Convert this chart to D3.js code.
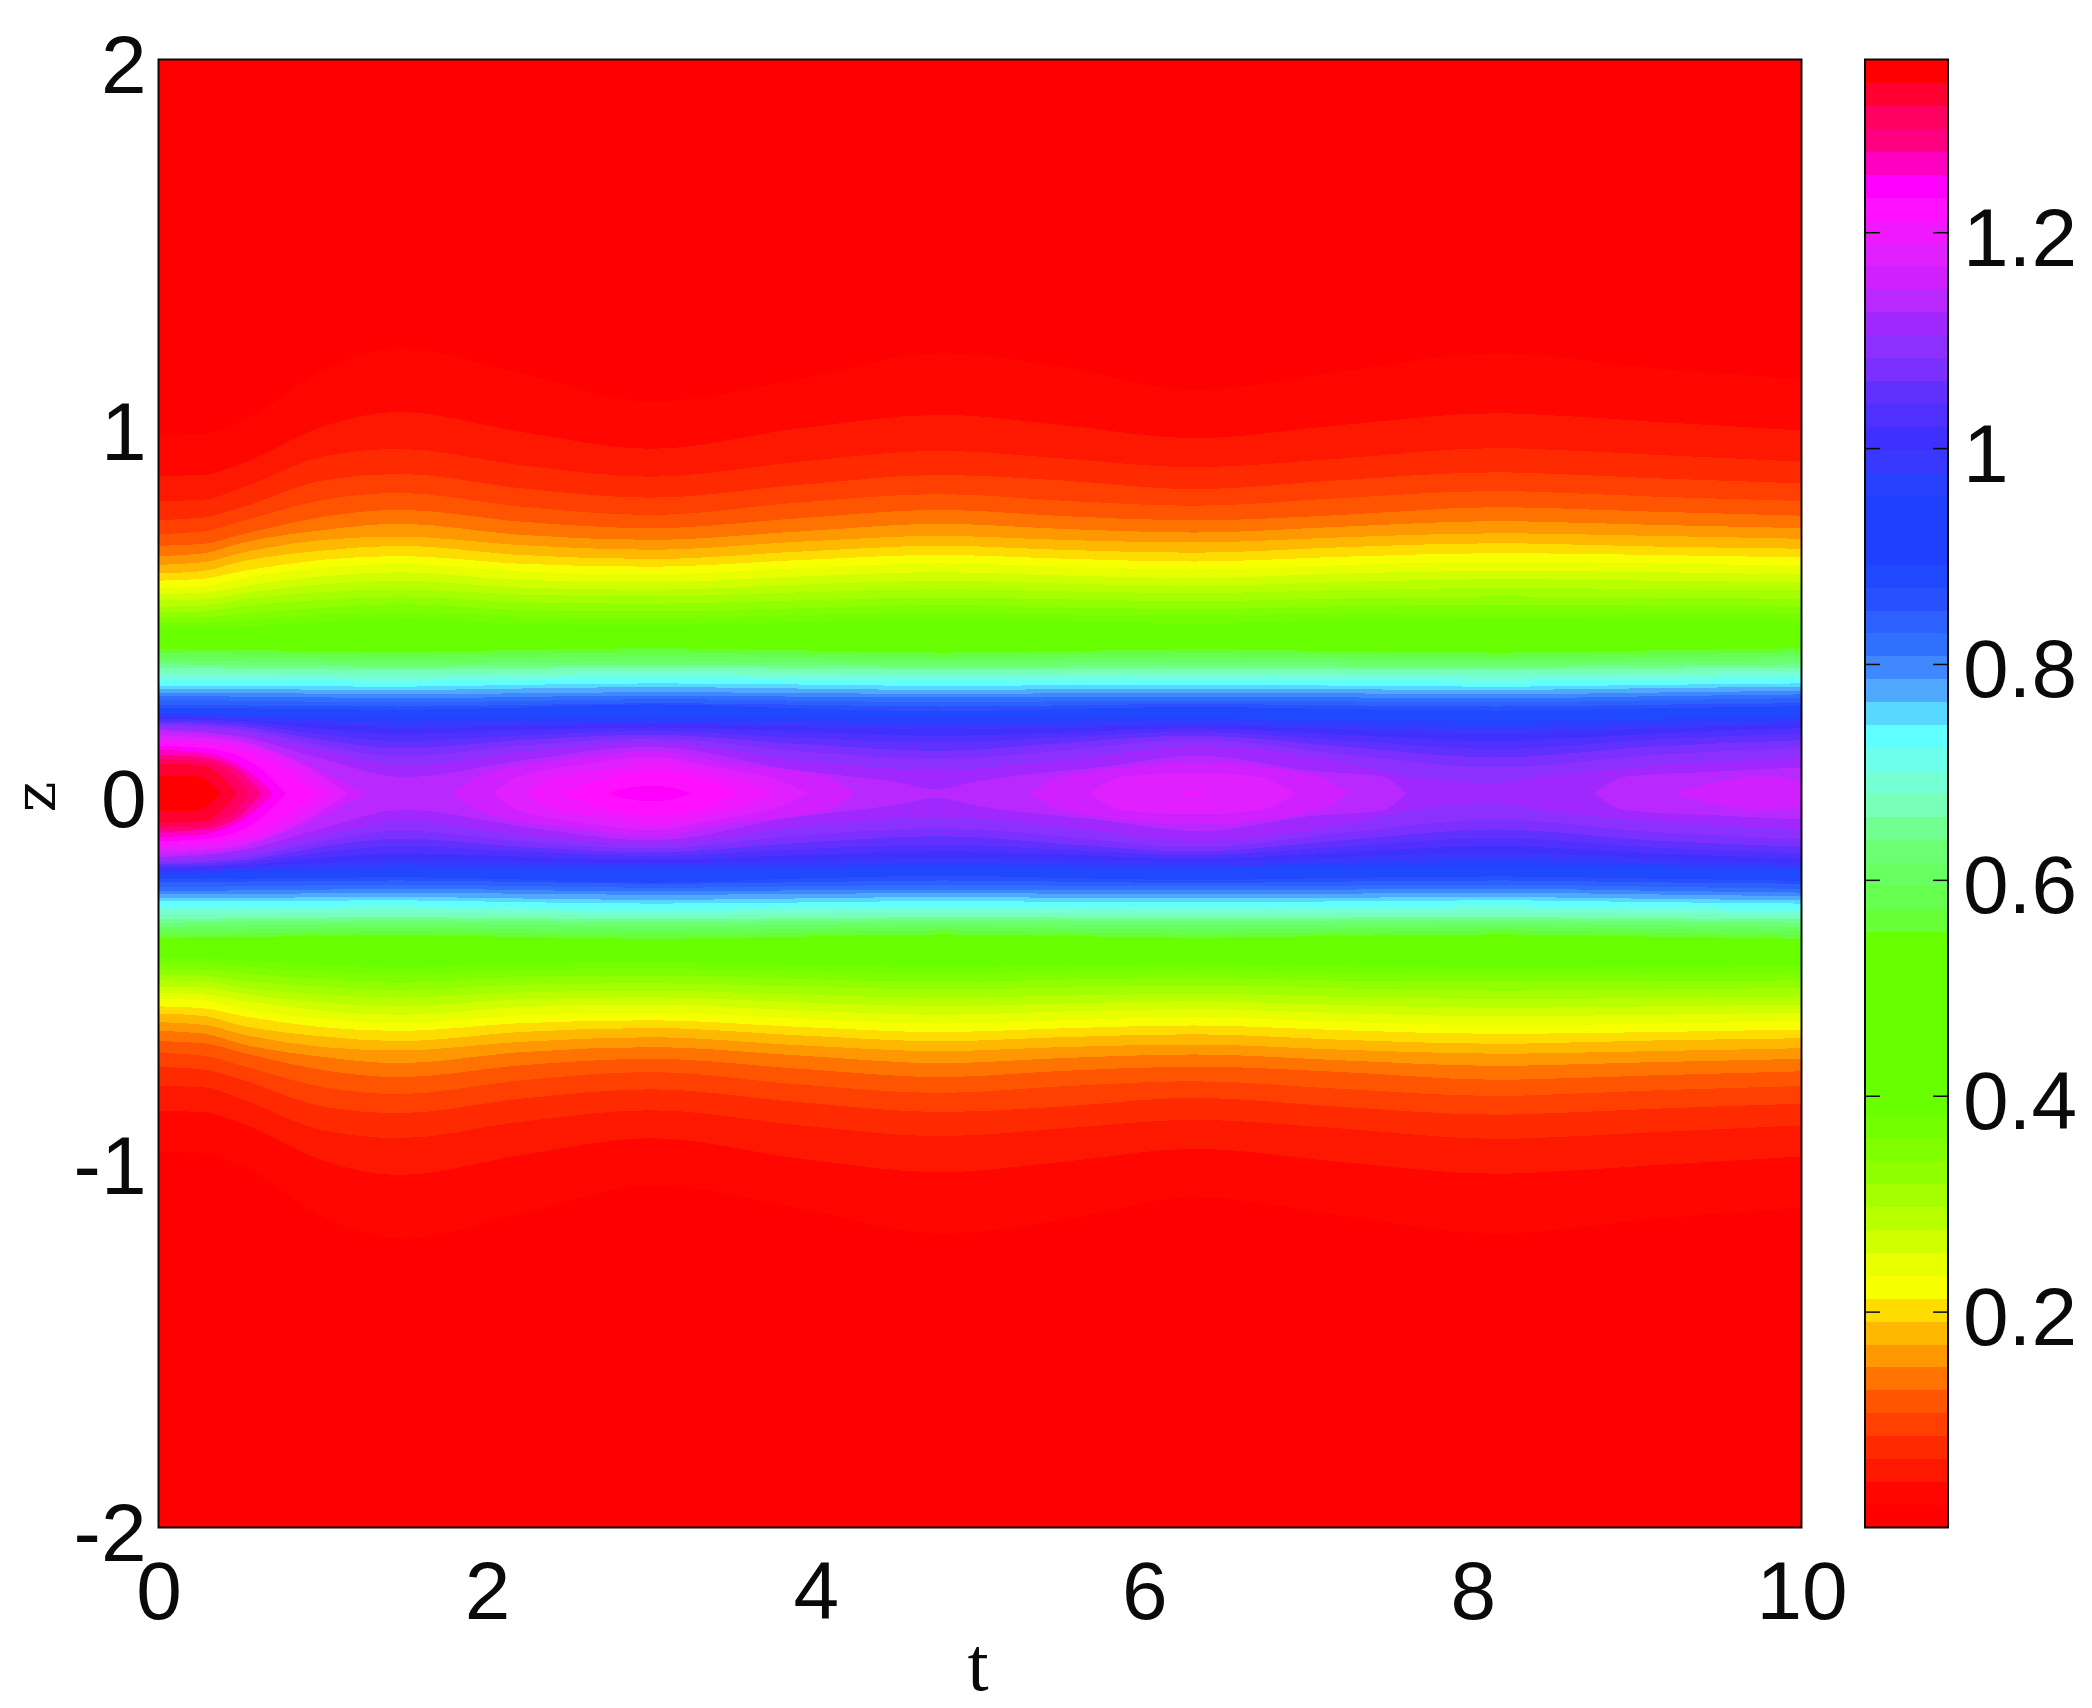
<!DOCTYPE html>
<html lang="en">
<head>
<meta charset="utf-8">
<title>z-t contour</title>
<script src="https://d3js.org/d3.v7.min.js"></script>
<style>
body { margin: 0; background: #fff; }
text { fill: #0a0a0a; }
.axis text { font: 82px "Liberation Sans", Arial, sans-serif; }
.axis path { display: none; }
.axis line { stroke: #0a0a0a; stroke-width: 1.5; }
</style>
</head>
<body>
<svg width="2092" height="1708"></svg>
<script>
// colours of the 64 colorbar bands, bottom to top
var bandColors = [
  "#ff0000","#ff0600","#ff1800","#ff2a00","#ff4000","#ff5500","#ff7400","#ff9800",
  "#ffb800","#ffdc00","#f8ff00","#e8ff00","#d0ff00","#b8ff00","#a4ff00","#90ff00",
  "#80ff00","#74ff00","#68ff00","#66ff00","#66ff00","#66ff00","#66ff00","#66ff00",
  "#66ff00","#66ff00","#66ff38","#66ff50","#68ff60","#6cff74","#70ff90","#78ffb8",
  "#74ffd4","#6cffec","#60ffff","#58d8ff","#50a8ff","#4088ff","#3070ff","#2c60ff",
  "#2850ff","#2048ff","#2040ff","#2040ff","#2040ff","#2840ff","#3838ff","#4030ff",
  "#5030ff","#6030ff","#7c30ff","#8c30ff","#a028ff","#b828ff","#d020ff","#e020ff",
  "#f018ff","#ff10ff","#ff00ff","#ff00c0","#ff0080","#ff0060","#ff0030","#ff0000"
];

var tTicks = [0, 2, 4, 6, 8, 10];
var zTicks = [-2, -1, 0, 1, 2];
var cTicks = [0.2, 0.4, 0.6, 0.8, 1, 1.2];

// times at which the band edges were read
var tColumns = [0, 0.27, 0.5, 1, 1.47, 2.2, 3, 3.9, 4.76, 5.5, 6.3, 7.2, 8.13, 9.1, 10];

// band index -> |z| of the lower edge of that band at each time in tColumns
var edgeLevels = [1,2,3,4,5,6,7,8,9,10,11,12,13,14,15,16,17,18,
  26,27,28,29,30,31,32,33,34,35,36,37,38,39,40,41,45,46,47,48,49,50,51];
var edgeZ = [
  [.977,.98,1.013,1.154,1.214,1.146,1.068,1.13,1.2,1.163,1.1,1.15,1.2,1.159,1.129],
  [.865,.868,.898,1.0,1.04,.986,.939,.995,1.032,1.004,.968,1.004,1.036,1.013,.989],
  [.797,.8,.832,.918,.939,.895,.863,.904,.934,.913,.889,.913,.941,.923,.904],
  [.745,.752,.779,.853,.871,.832,.806,.841,.868,.853,.829,.854,.875,.859,.845],
  [.707,.714,.741,.8,.819,.782,.759,.793,.816,.798,.784,.805,.824,.809,.797],
  [.675,.68,.705,.754,.773,.741,.723,.75,.773,.756,.744,.759,.78,.768,.757],
  [.647,.654,.682,.718,.735,.705,.691,.714,.735,.721,.711,.727,.742,.732,.723],
  [.623,.63,.655,.691,.7,.677,.664,.686,.702,.691,.684,.698,.709,.702,.694],
  [.6,.606,.632,.662,.675,.65,.639,.659,.675,.664,.656,.671,.682,.673,.667],
  [.58,.585,.605,.637,.647,.626,.618,.636,.65,.64,.632,.645,.655,.65,.643],
  [.559,.564,.585,.615,.626,.605,.597,.614,.627,.618,.61,.622,.632,.627,.62],
  [.544,.547,.564,.592,.603,.582,.575,.591,.603,.594,.587,.599,.607,.603,.597],
  [.526,.529,.545,.57,.58,.561,.555,.569,.58,.572,.566,.576,.584,.58,.575],
  [.509,.512,.528,.549,.556,.542,.537,.548,.557,.551,.546,.554,.56,.557,.553],
  [.493,.496,.51,.527,.537,.521,.517,.526,.534,.529,.524,.531,.537,.534,.53],
  [.478,.48,.49,.506,.516,.5,.496,.505,.514,.507,.503,.51,.514,.512,.509],
  [.464,.465,.472,.487,.496,.482,.478,.486,.493,.488,.485,.491,.495,.493,.49],
  [.448,.449,.454,.467,.475,.463,.459,.467,.473,.469,.465,.471,.475,.473,.47],
  [.393,.392,.391,.388,.386,.391,.396,.39,.384,.388,.393,.388,.384,.39,.396],
  [.384,.383,.381,.378,.375,.38,.384,.379,.373,.378,.382,.378,.373,.379,.385],
  [.373,.372,.371,.368,.366,.37,.374,.369,.364,.368,.371,.368,.364,.369,.375],
  [.363,.362,.36,.357,.355,.358,.361,.358,.355,.357,.359,.357,.355,.359,.364],
  [.352,.351,.349,.347,.345,.348,.35,.348,.345,.346,.347,.346,.345,.348,.352],
  [.341,.341,.34,.338,.337,.34,.342,.34,.337,.338,.339,.338,.337,.34,.343],
  [.329,.329,.328,.326,.325,.328,.331,.328,.325,.327,.328,.327,.325,.328,.332],
  [.317,.317,.316,.314,.312,.317,.321,.317,.314,.315,.317,.315,.313,.317,.321],
  [.305,.305,.304,.303,.302,.307,.312,.307,.303,.305,.306,.304,.302,.306,.311],
  [.293,.293,.293,.292,.291,.296,.3,.297,.293,.295,.296,.294,.291,.296,.3],
  [.284,.284,.284,.283,.282,.286,.29,.286,.282,.284,.285,.284,.282,.287,.291],
  [.275,.275,.274,.272,.27,.273,.276,.274,.271,.273,.275,.273,.27,.275,.28],
  [.266,.265,.264,.262,.259,.263,.267,.264,.262,.263,.264,.262,.259,.265,.27],
  [.255,.254,.253,.25,.248,.252,.257,.253,.249,.251,.253,.251,.248,.254,.26],
  [.241,.241,.24,.238,.237,.241,.246,.242,.237,.24,.244,.24,.237,.242,.246],
  [.234,.233,.232,.23,.228,.234,.243,.232,.224,.23,.236,.23,.226,.232,.238],
  [.22,.218,.215,.212,.21,.208,.207,.207,.207,.206,.205,.202,.198,.204,.21],
  [.215,.212,.208,.2,.193,.196,.198,.195,.191,.193,.196,.189,.18,.192,.2],
  [.21,.206,.2,.19,.18,.185,.19,.183,.175,.18,.187,.175,.162,.178,.19],
  [.204,.201,.197,.175,.162,.172,.18,.168,.157,.166,.178,.16,.143,.163,.178],
  [.199,.196,.19,.16,.143,.158,.17,.152,.139,.153,.168,.145,.121,.147,.163],
  [.193,.19,.183,.145,.123,.145,.16,.135,.116,.137,.158,.128,.098,.128,.145],
  [.187,.183,.175,.13,.101,.13,.15,.115,.094,.117,.147,.108,.071,.105,.124]
];

// near the centre line the bands close up: each level has one or more
// separate pieces, each a [t, |z|] list ending on z = 0 where it closes
var coreLevels = [52,53,54,55,56,57,58,59,60,61,62,63];
var corePieces = [
  [[[0,.18],[.5,.165],[1,.116],[1.5,.075],[2.2,.113],[3,.14],[3.9,.09],[4.73,.064],[5.5,.09],[6.34,.13],[7.2,.085],[7.62,.046],[8.13,.028],[8.42,.046],[9.1,.075],[10,.098]]],
  [[[0,.173],[.5,.155],[1,.094],[1.5,.044],[2.2,.089],[3,.128],[3.9,.062],[4.23,.046],[4.5,.03],[4.73,.012],[5,.035],[5.31,.053],[5.7,.07],[6.34,.103],[7,.062],[7.45,.046],[7.59,0]],
   [[8.74,0],[8.93,.046],[9.5,.06],[10,.071]]],
  [[[0,.166],[.4,.155],[.85,.09],[1.26,0]],
   [[1.79,0],[1.95,.048],[2.45,.09],[3,.115],[3.5,.08],[4.07,.046],[4.23,0]],
   [[5.31,0],[5.5,.046],[6.34,.083],[7.07,.046],[7.24,0]],
   [[9.22,0],[9.5,.033],[9.75,.046],[10,.035]]],
  [[[0,.158],[.4,.148],[.85,.085],[1.15,0]],
   [[2.04,0],[2.18,.044],[2.6,.08],[3,.1],[3.4,.07],[3.75,.04],[3.96,0]],
   [[5.67,0],[5.87,.046],[6.34,.057],[6.7,.045],[6.92,0]]],
  [[[0,.15],[.4,.14],[.8,.08],[1.07,0]],
   [[2.24,0],[2.37,.04],[2.8,.07],[3,.083],[3.3,.065],[3.52,.04],[3.75,0]],
   [[6.18,0],[6.3,.004],[6.44,0]]],
  [[[0,.14],[.3,.133],[.7,.08],[.96,0]],
   [[2.45,0],[2.74,.045],[3,.059],[3.24,.05],[3.52,0]]],
  [[[0,.13],[.3,.123],[.6,.075],[.775,0]],
   [[2.74,0],[2.85,.015],[3,.021],[3.1,.018],[3.24,0]]],
  [[[0,.119],[.25,.113],[.55,.06],[.7,0]]],
  [[[0,.105],[.25,.1],[.5,.06],[.625,0]]],
  [[[0,.093],[.25,.09],[.45,.055],[.55,0]]],
  [[[0,.081],[.25,.078],[.38,.05],[.475,0]]],
  [[[0,.047],[.23,.047],[.38,0]]]
];

var svg = d3.select("svg");

var plot = { left: 158.5, right: 1801.5, top: 59.5, bottom: 1527.5 };
var bar = { left: 1865, right: 1948, top: 59.5, bottom: 1527.5 };

var x = d3.scaleLinear().domain([0, 10]).range([plot.left, plot.right]);
var y = d3.scaleLinear().domain([-2, 2]).range([plot.bottom, plot.top]);
var c = d3.scaleLinear().domain([0, 1.36]).range([bar.bottom, bar.top]);
var cBand = d3.scaleBand().domain(d3.range(bandColors.length)).range([bar.bottom, bar.top]);

var band = d3.area()
    .curve(d3.curveMonotoneX)
    .x(function(d) { return x(d[0]); })
    .y0(function(d) { return y(-d[1]); })
    .y1(function(d) { return y(d[1]); });

var g = svg.append("g").attr("shape-rendering", "crispEdges");

g.append("rect")
 .attr("x", x(0)).attr("y", y(2))
 .attr("width", x(10) - x(0)).attr("height", y(-2) - y(2))
 .attr("fill", bandColors[0]);

// each band is painted from its edge inwards, the next one paints over it
edgeLevels.forEach(function(level, i) {
    var row = tColumns.map(function(t, j) { return [t, edgeZ[i][j]]; });
    g.append("path")
     .attr("d", band(row))
     .attr("fill", bandColors[level]);
});

coreLevels.forEach(function(level, i) {
    corePieces[i].forEach(function(piece) {
        g.append("path")
         .attr("d", band(piece))
         .attr("fill", bandColors[level]);
    });
});

svg.append("rect")
   .attr("x", plot.left).attr("y", plot.top)
   .attr("width", plot.right - plot.left).attr("height", plot.bottom - plot.top)
   .attr("fill", "none").attr("stroke", "#0a0a0a").attr("stroke-width", 2);

var xAxis = svg.append("g").attr("class", "axis")
   .attr("transform", "translate(0," + plot.bottom + ")")
   .call(d3.axisBottom(x).tickValues(tTicks).tickSize(0).tickPadding(33).tickFormat(d3.format("d")));

var yAxis = svg.append("g").attr("class", "axis")
   .attr("transform", "translate(" + plot.left + ",0)")
   .call(d3.axisLeft(y).tickValues(zTicks).tickSize(0).tickPadding(12).tickFormat(function(d) { return d; }));
yAxis.selectAll("text").attr("dy", 33);

svg.append("text")
   .attr("x", 978).attr("y", 1690).attr("text-anchor", "middle")
   .style("font", "76px 'Liberation Serif', serif").text("t");

svg.append("text")
   .attr("transform", "translate(55,797) rotate(-90)")
   .attr("text-anchor", "middle")
   .style("font", "58px 'DejaVu Serif', serif").text("z");

// colorbar
svg.append("g").attr("shape-rendering", "crispEdges")
   .selectAll("rect")
   .data(bandColors)
   .enter().append("rect")
   .attr("x", bar.left)
   .attr("y", function(d, i) { return cBand(i); })
   .attr("width", bar.right - bar.left)
   .attr("height", cBand.bandwidth() + 0.5)
   .attr("fill", function(d) { return d; });

svg.append("g").attr("class", "axis")
   .attr("transform", "translate(" + bar.left + ",0)")
   .call(d3.axisLeft(c).tickValues(cTicks).tickSize(-15).tickFormat(""));

var cAxis = svg.append("g").attr("class", "axis")
   .attr("transform", "translate(" + bar.right + ",0)")
   .call(d3.axisRight(c).tickValues(cTicks).tickSize(-15).tickPadding(15).tickFormat(function(d) { return d; }));
cAxis.selectAll("text").attr("dy", 33);

svg.append("rect")
   .attr("x", bar.left).attr("y", bar.top)
   .attr("width", bar.right - bar.left).attr("height", bar.bottom - bar.top)
   .attr("fill", "none").attr("stroke", "#0a0a0a").attr("stroke-width", 2);
</script>
</body>
</html>
